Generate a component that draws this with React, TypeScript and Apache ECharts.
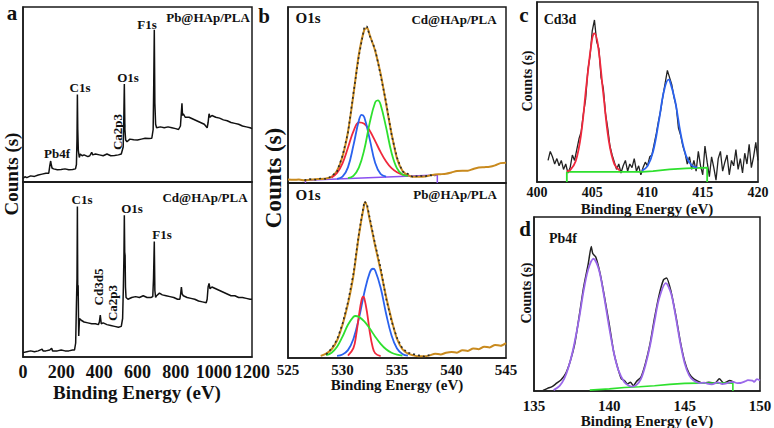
import React, { useEffect, useRef } from "react";
import * as echarts from "echarts";

// ---------- Panel a: survey spectra (relative counts, 0-100 of panel height) ----------
const surveyPb: [number, number][] = [
  [0, 2], [10, 3], [20, 2.5], [40, 3.5], [60, 3.2], [80, 4], [100, 4.5], [120, 5], [135, 5], [140, 9], [145, 12], [148, 10], [152, 8],
  [160, 7.5], [180, 7], [200, 7.2], [220, 7.5], [240, 7], [260, 7.2], [275, 7.5], [280, 10], [283, 25], [285, 50], [287, 30], [290, 18],
  [295, 14], [300, 16], [310, 15], [320, 15.5], [340, 14.5], [350, 15], [360, 17], [365, 15.5], [380, 16], [400, 15.5], [420, 15],
  [440, 16], [460, 15], [480, 15.2], [500, 15.5], [515, 16], [525, 20], [528, 35], [531, 56], [534, 30], [538, 24], [545, 23],
  [560, 24.5], [580, 24.2], [600, 24], [620, 24.5], [640, 25], [660, 24.8], [675, 25], [682, 30], [685, 55], [688, 87], [691, 45],
  [695, 33], [700, 31], [720, 31.5], [740, 31], [760, 31.5], [780, 31], [800, 30.5], [815, 30], [825, 32], [830, 40], [833, 45],
  [836, 38], [840, 39], [850, 37], [870, 37], [890, 36], [910, 35], [930, 34], [950, 33], [965, 31], [970, 34], [975, 39], [980, 37],
  [990, 38], [1010, 37], [1030, 36.5], [1050, 35.5], [1070, 35], [1090, 34], [1110, 33.5], [1130, 33], [1150, 32], [1170, 31.5],
  [1190, 31], [1200, 30.5],
];
const surveyCd: [number, number][] = [
  [0, 2.5], [20, 3], [40, 3.5], [60, 3], [80, 3.5], [100, 4.5], [105, 3.5], [120, 3.5], [140, 4], [150, 5], [155, 3.5], [180, 3.5],
  [200, 4], [220, 3.5], [240, 3.5], [260, 4], [270, 4], [276, 8], [280, 30], [283, 45], [285, 86], [287, 35], [289, 41], [292, 12],
  [296, 22], [305, 21], [320, 20], [340, 19.5], [360, 19], [380, 19], [395, 18.5], [400, 20], [405, 24], [410, 19], [420, 19.5],
  [440, 18.5], [460, 18], [480, 17.5], [500, 17], [515, 17.5], [522, 22], [526, 40], [529, 58], [531, 81], [533, 60], [535, 58],
  [537, 40], [540, 34], [550, 33], [570, 34], [590, 34.5], [610, 34], [630, 35], [650, 34], [670, 34], [680, 34.5], [684, 45],
  [688, 66], [691, 38], [695, 34], [700, 35], [715, 36.5], [730, 35.5], [750, 35], [770, 34.5], [790, 34], [810, 33], [822, 33],
  [826, 36], [830, 40], [834, 36], [840, 35], [860, 34], [880, 33.5], [900, 33], [920, 32], [940, 31.5], [960, 31], [965, 33],
  [970, 40], [975, 42], [980, 39], [990, 40], [1010, 39], [1030, 38], [1050, 37], [1070, 36], [1090, 35], [1110, 35], [1130, 34],
  [1150, 34], [1170, 33.5], [1190, 33], [1200, 33],
];

// ---------- Panel b: O1s, Cd@HAp/PLA ----------
const o1sCdData: [number, number][] = [
  [526.5, 1.6], [527, 2.2], [527.5, 1.9], [528, 2.6], [528.5, 2.3], [529, 3.9], [529.5, 6.5], [530, 15.5], [530.5, 28.5], [531, 51],
  [531.5, 72], [532, 88.5], [532.25, 89], [532.5, 83.5], [533, 76], [533.5, 61], [534, 46], [534.5, 27.5], [535, 14.5], [535.5, 6.5],
  [536, 5.2], [536.5, 3.2], [537, 4.3], [537.5, 3.6], [538, 4.5], [538.5, 3.8],
];
const o1sCdEnvelope: [number, number][] = [
  [525, 2], [525.5, 1.8], [526, 2], [526.5, 1.5], [527, 1.9], [527.5, 2.2], [528, 2.3], [528.5, 2.6], [529, 3.5], [529.5, 7],
  [530, 15], [530.5, 29], [531, 50], [531.5, 73], [532, 87], [532.25, 88], [532.5, 84], [533, 75], [533.5, 62], [534, 45],
  [534.5, 28], [535, 14], [535.5, 7], [536, 4.5], [536.5, 3.5], [537, 3.5], [538, 4.2], [538.5, 4.8], [539, 5], [539.5, 5.3],
  [540, 6], [540.5, 6.8], [541, 7], [541.5, 7.0], [542, 8], [542.5, 8.8], [543, 9], [543.5, 9.2], [544, 10], [544.5, 11.3], [545, 11.5],
];
const o1sCdRed: [number, number][] = [
  [529, 3.2], [529.5, 5.7], [530, 11.2], [530.5, 20], [531, 29.3], [531.5, 34.5], [532, 33.7], [532.5, 29.7], [533, 23.8],
  [533.5, 17.5], [534, 12.2], [534.5, 8.4], [535, 6.1], [535.5, 4.8], [536, 4.2],
];
const o1sCdBlue: [number, number][] = [
  [529.5, 2.4], [530, 3.6], [530.5, 8.9], [531, 21.3], [531.5, 35.5], [531.75, 38.7], [532, 37.4], [532.5, 24.8], [533, 11.4],
  [533.5, 5.1], [534, 3.6],
];
const o1sCdGreen: [number, number][] = [
  [530.5, 2.8], [531, 4.1], [531.5, 8.7], [532, 19], [532.5, 34.3], [533, 45.9], [533.25, 47], [533.5, 44.5], [534, 31.6],
  [534.5, 17.2], [535, 8.3], [535.5, 4.8], [536, 4],
];
const o1sCdBackground: [number, number][] = [[526.6, 0], [526.6, 1.5], [538.7, 4.5], [538.7, 0]];

// ---------- Panel b: O1s, Pb@HAp/PLA ----------
const o1sPbData: [number, number][] = [
  [528.5, 2], [529, 5.5], [529.5, 10.5], [530, 19.5], [530.5, 32], [531, 48], [531.5, 71], [532, 89.5], [532.25, 88], [532.5, 80],
  [533, 65], [533.5, 51.5], [534, 34], [534.5, 21], [535, 11.5], [535.5, 5.5], [536, 3], [536.5, 2.2], [537, 1.5], [537.5, 0.8], [538, 1.8],
];
const o1sPbEnvelope: [number, number][] = [
  [528, 1.2], [528.5, 2.5], [529, 5], [529.5, 10], [530, 19], [530.5, 31], [531, 47], [531.5, 70], [532, 88], [532.1, 89],
  [532.5, 79], [533, 64], [533.5, 50], [534, 35], [534.5, 22], [535, 11], [535.5, 5], [536, 2.5], [536.5, 1.5], [537, 1],
  [537.5, 1], [538, 1.5], [538.5, 2.5], [539, 2], [539.5, 3], [540, 3.5], [540.5, 3], [541, 4.5], [541.5, 4], [542, 5.5],
  [542.5, 5], [543, 6.5], [543.5, 6], [544, 7.5], [544.5, 7], [545, 8.5],
];
const o1sPbBlue: [number, number][] = [
  [529.5, 1.2], [530, 2], [530.5, 4.5], [531, 10.9], [531.5, 22.5], [532, 37.3], [532.5, 48.8], [532.8, 51], [533, 50],
  [533.5, 40.1], [534, 25.3], [534.5, 12.8], [535, 5.4], [535.5, 2.3], [536, 1.3],
];
const o1sPbRed: [number, number][] = [
  [530.5, 1.3], [531, 5.6], [531.25, 13], [531.5, 23.9], [531.75, 33.2], [531.9, 35], [532, 34.2], [532.25, 26.1], [532.5, 15],
  [532.75, 6.7], [533, 2.7], [533.5, 1.1],
];
const o1sPbGreen: [number, number][] = [
  [528.5, 1.6], [529, 3], [529.5, 6.4], [530, 12.2], [530.5, 19], [531, 23.5], [531.2, 24], [531.5, 23.5], [532, 20.9],
  [532.5, 16.8], [533, 12.2], [533.5, 8.1], [534, 5], [534.5, 3], [535, 1.9], [535.5, 1.4],
];

// ---------- Panel c: Cd3d ----------
const cd3dData: [number, number][] = [
  [401, 12], [401.2, 17], [401.4, 14], [401.6, 10], [401.8, 13], [402, 9], [402.2, 12], [402.4, 7], [402.6, 10], [402.8, 5],
  [403, 8], [403.2, 15], [403.4, 12], [403.6, 18], [403.8, 24], [404, 28], [404.2, 38], [404.4, 46], [404.6, 62], [404.8, 70],
  [405, 84], [405.2, 90], [405.4, 78], [405.6, 74], [405.8, 58], [406, 52], [406.2, 38], [406.4, 30], [406.6, 20], [406.8, 15],
  [407, 11], [407.2, 7], [407.4, 10], [407.6, 5], [407.8, 9], [408, 12], [408.2, 6], [408.4, 10], [408.6, 8], [408.8, 13],
  [409, 6], [409.2, 9], [409.4, 4], [409.6, 8], [409.8, 11], [410, 9], [410.2, 14], [410.4, 15], [410.6, 21], [410.8, 27],
  [411, 34], [411.2, 40], [411.4, 48], [411.6, 55], [411.8, 62], [412, 58], [412.2, 54], [412.4, 47], [412.6, 42], [412.8, 30],
  [413, 26], [413.2, 20], [413.4, 16], [413.6, 10], [413.8, 14], [414, 7], [414.2, 12], [414.4, 6], [414.6, 17], [414.8, 9],
  [415, 4], [415.2, 20], [415.4, 11], [415.6, 3], [415.8, 14], [416, 8], [416.2, 1], [416.4, 13], [416.6, 17], [416.8, 6],
  [417, 11], [417.2, 15], [417.4, 4], [417.6, 12], [417.8, 9], [418, 18], [418.2, 7], [418.4, 13], [418.6, 5], [418.8, 16],
  [419, 10], [419.2, 21], [419.4, 8], [419.6, 14], [419.8, 22], [420, 12],
];
const cd3dRed: [number, number][] = [
  [402.7, 5.9], [403, 6.6], [403.5, 11.5], [404, 27], [404.5, 55.4], [405, 79.9], [405.2, 82.6], [405.5, 76.7], [406, 49.2],
  [406.5, 22.8], [407, 9.9], [407.5, 6.3],
];
const cd3dBlue: [number, number][] = [
  [409.5, 6.3], [410, 8.8], [410.5, 16.8], [411, 32.8], [411.5, 50.8], [411.9, 56.9], [412, 56.6], [412.5, 45], [413, 26.9],
  [413.5, 14.4], [414, 9.3], [414.5, 8.1],
];
const cd3dBackground: [number, number][] = [
  [402.7, 0], [402.7, 5.6], [409.5, 5.6], [410.5, 6], [412, 7], [413.5, 7.6], [415.4, 8], [415.4, 0],
];

// ---------- Panel d: Pb4f ----------
const pb4fData: [number, number][] = [
  [135.6, 0.3], [135.9, 1.5], [136.2, 2.5], [136.5, 4.5], [136.8, 6.5], [137.1, 10], [137.4, 17], [137.7, 27], [138, 43],
  [138.3, 60], [138.6, 73], [138.8, 83], [138.9, 79], [139.1, 77], [139.4, 67], [139.7, 53], [140, 38], [140.3, 22], [140.6, 12],
  [140.8, 7], [141, 6], [141.2, 4], [141.4, 5], [141.6, 3], [141.8, 5.5], [142.1, 8], [142.4, 16], [142.7, 27], [143, 42],
  [143.3, 55], [143.6, 64], [143.8, 65], [144.1, 57], [144.4, 44], [144.7, 29], [145, 17], [145.3, 10], [145.6, 7], [145.9, 5.5],
  [146.2, 4.5], [146.6, 5], [147, 4.5], [147.3, 7], [147.6, 4.5], [148, 6], [148.3, 4.8],
];
const pb4fFit: [number, number][] = [
  [136.3, 0.5], [136.7, 3], [137, 7], [137.3, 14], [137.6, 24], [138, 42], [138.3, 58], [138.6, 70], [138.95, 76], [139.3, 70],
  [139.6, 57], [140, 36], [140.3, 22], [140.6, 12], [141, 5], [141.3, 3], [141.5, 2.5], [141.8, 3.5], [142.1, 7], [142.4, 15],
  [142.7, 26], [143, 40], [143.3, 53], [143.75, 62], [144.1, 56], [144.4, 43], [144.7, 28], [145, 16], [145.3, 9], [145.6, 6],
  [146, 4.5], [146.3, 4.8], [146.5, 4.2], [146.8, 3.8], [147.2, 4.9], [147.5, 4], [147.7, 4.2], [148, 5], [148.2, 5.3],
  [148.5, 4.5], [148.7, 4.6], [149, 5.5], [149.2, 6.2], [149.5, 6], [149.6, 5.2], [149.8, 6.8], [150, 6],
];
const pb4fBackground: [number, number][] = [
  [138.7, 0.5], [140, 1.2], [141, 2], [142, 2.4], [143, 3], [144, 3.8], [145, 4.4], [146, 4.5], [148.2, 4.5], [148.2, 0],
];

// ---------- axis ranges [min, max, interval] ----------
const surveyAxis = [0, 1200, 200];
const o1sAxis = [525, 545, 5];
const cd3dAxis = [400, 420, 5];
const pb4fAxis = [135, 150, 5];

const SERIF = '"Liberation Serif", "Times New Roman", Times, serif';
const C = {
  data: "#2b2b2b",
  orange: "#C98A1E",
  red: "#F0283C",
  blue: "#2A62EE",
  green: "#2EE02E",
  purple: "#8A4FF0",
  fit: "#9A68EA",
  frame: "#1a1a1a",
};

export default function App() {
  const ref = useRef<HTMLDivElement>(null);
  useEffect(() => {
    if (!ref.current) return;
    const chart = echarts.init(ref.current, undefined, { renderer: "svg" });

    const gridBoxes = [
      { left: 23, top: 7, width: 229, height: 175 },
      { left: 23, top: 182, width: 229, height: 175 },
      { left: 288, top: 7, width: 218, height: 176 },
      { left: 288, top: 183, width: 218, height: 175 },
      { left: 537, top: 2, width: 221, height: 180 },
      { left: 534, top: 217, width: 226, height: 174 },
    ];
    const grid = gridBoxes.map((g) => ({
      ...g,
      show: true,
      borderColor: C.frame,
      borderWidth: 1.5,
      containLabel: false,
      outerBoundsMode: "none",
    }));

    const axisDefs: { r: number[]; show: boolean; size: number; margin: number }[] = [
      { r: surveyAxis, show: false, size: 18, margin: 6 },
      { r: surveyAxis, show: true, size: 18, margin: 6 },
      { r: o1sAxis, show: false, size: 15, margin: 4 },
      { r: o1sAxis, show: true, size: 15, margin: 4 },
      { r: cd3dAxis, show: true, size: 14, margin: 3 },
      { r: pb4fAxis, show: true, size: 15, margin: 7 },
    ];
    const xAxis = axisDefs.map((a, i) => ({
      type: "value",
      gridIndex: i,
      min: a.r[0],
      max: a.r[1],
      interval: a.r[2],
      axisLine: { show: true, onZero: false, lineStyle: { color: C.frame, width: 1.5 } },
      axisTick: { show: false },
      splitLine: { show: false },
      axisLabel: {
        show: a.show,
        showMinLabel: true,
        showMaxLabel: true,
        hideOverlap: false,
        formatter: (v: number) => String(v),
        color: "#111",
        fontFamily: SERIF,
        fontWeight: "bold",
        fontSize: a.size,
        margin: a.margin,
      },
    }));
    const yAxis = axisDefs.map((_, i) => ({
      type: "value",
      gridIndex: i,
      min: 0,
      max: 100,
      axisLine: { show: true, lineStyle: { color: C.frame, width: 1.5 } },
      axisTick: { show: false },
      axisLabel: { show: false },
      splitLine: { show: false },
    }));

    const line = (i: number, data: [number, number][], color: string, width = 1.5, extra: any = {}) => ({
      type: "line",
      xAxisIndex: i,
      yAxisIndex: i,
      data,
      showSymbol: false,
      symbol: "none",
      silent: true,
      lineStyle: { color, width, ...(extra.lineStyle || {}) },
      smooth: extra.smooth ?? false,
      z: extra.z ?? 2,
    });

    const series = [
      line(0, surveyPb, "#111", 1.5),
      line(1, surveyCd, "#111", 1.5),
      // b top
      line(2, o1sCdBackground, C.purple, 1.5),
      line(2, o1sCdEnvelope, C.orange, 2, { smooth: 0.3 }),
      line(2, o1sCdRed, C.red, 1.8, { smooth: 0.4 }),
      line(2, o1sCdBlue, C.blue, 1.8, { smooth: 0.4 }),
      line(2, o1sCdGreen, C.green, 1.8, { smooth: 0.4 }),
      line(2, o1sCdData, C.data, 1.6, { lineStyle: { type: [2, 3] }, z: 3 }),
      // b bottom
      line(3, o1sPbEnvelope, C.orange, 2, { smooth: 0.3 }),
      line(3, o1sPbBlue, C.blue, 1.8, { smooth: 0.4 }),
      line(3, o1sPbRed, C.red, 1.8, { smooth: 0.4 }),
      line(3, o1sPbGreen, C.green, 1.8, { smooth: 0.4 }),
      line(3, o1sPbData, C.data, 1.6, { lineStyle: { type: [2, 3] }, z: 3 }),
      // c
      line(4, cd3dData, "#222", 1.3),
      line(4, cd3dBackground, C.green, 1.8),
      line(4, cd3dRed, C.red, 1.8, { smooth: 0.4, z: 3 }),
      line(4, cd3dBlue, C.blue, 1.8, { smooth: 0.4, z: 3 }),
      // d
      line(5, pb4fData, "#222", 1.5, { smooth: 0.2 }),
      line(5, pb4fBackground, C.green, 1.6),
      line(5, pb4fFit, C.fit, 1.8, { smooth: 0.3, z: 3 }),
    ];

    const txt = (text: string, x: number, y: number, size: number, rot = 0) => ({
      type: "text",
      x,
      y,
      rotation: rot,
      silent: true,
      style: {
        text,
        fill: "#111",
        font: `bold ${size}px ${SERIF}`,
        textAlign: "center",
        textVerticalAlign: "middle",
      },
    });
    const R = Math.PI / 2;
    const graphic = [
      // panel letters
      txt("a", 12, 13, 21),
      txt("b", 264, 16, 21),
      txt("c", 524, 15, 21),
      txt("d", 525, 229, 21),
      // axis titles
      txt("Counts (s)", 11, 174, 19, R),
      txt("Counts (s)", 273, 178, 23, R),
      txt("Counts (s)", 527, 81, 14, R),
      txt("Counts (s)", 526, 293, 14, R),
      txt("Binding Energy (eV)", 137, 392, 19),
      txt("Binding Energy (eV)", 397, 385, 15),
      txt("Binding Energy (eV)", 647, 209, 15),
      txt("Binding Energy (eV)", 647, 421, 15),
      // panel a annotations
      txt("Pb@HAp/PLA", 208, 17, 13),
      txt("F1s", 147, 24, 13),
      txt("O1s", 128, 77, 13),
      txt("C1s", 80, 87, 13),
      txt("Pb4f", 57, 153, 13),
      txt("Ca2p3", 117, 132, 13, R),
      txt("Cd@HAp/PLA", 205, 197, 13),
      txt("C1s", 82, 199, 13),
      txt("O1s", 132, 208, 13),
      txt("F1s", 162, 234, 13),
      txt("Cd3d5", 98, 287, 13, R),
      txt("Ca2p3", 112, 303, 13, R),
      // panel b annotations
      txt("O1s", 308, 18, 15),
      txt("Cd@HAp/PLA", 454, 19, 13),
      txt("O1s", 308, 195, 15),
      txt("Pb@HAp/PLA", 455, 194, 13),
      // c, d
      txt("Cd3d", 560, 19, 14),
      txt("Pb4f", 563, 238, 14),
    ];

    chart.setOption({
      animation: false,
      backgroundColor: "#ffffff",
      grid,
      xAxis,
      yAxis,
      series,
      graphic,
    });
    return () => chart.dispose();
  }, []);

  return <div ref={ref} style={{ width: 774, height: 428, position: "absolute", left: 0, top: 0 }} />;
}
